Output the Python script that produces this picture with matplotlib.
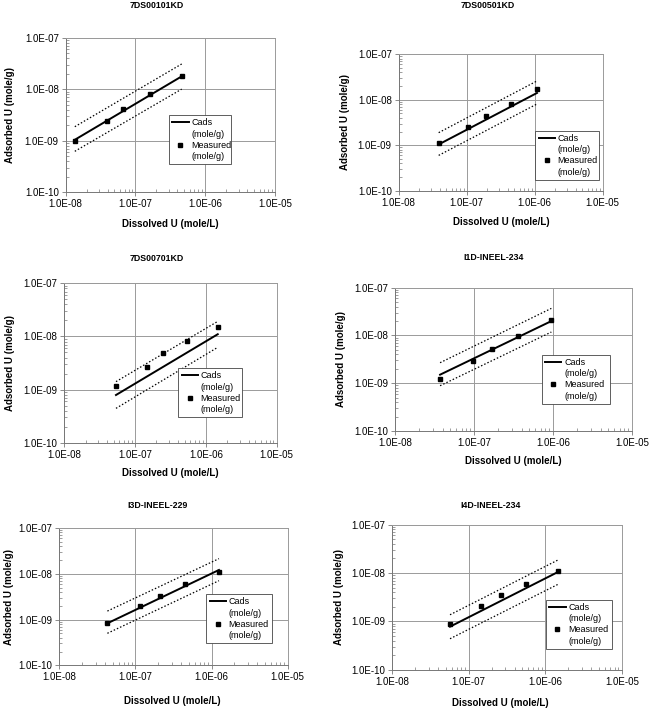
import matplotlib
matplotlib.use("Agg")
import matplotlib.pyplot as plt
from matplotlib.lines import Line2D
from matplotlib.ticker import FixedLocator, FixedFormatter, LogLocator, NullFormatter

plt.rcParams['font.family'] = ['Liberation Sans', 'DejaVu Sans']

titles = ["7DS00101KD", "7DS00501KD", "7DS00701KD",
          "I1D-INEEL-234", "I3D-INEEL-229", "I4D-INEEL-234"]

# measured points (dissolved U mole/L, adsorbed U mole/g)
meas_x = [
    [1.35e-8, 3.9e-8, 6.7e-8, 1.64e-7, 4.6e-7],
    [3.87e-8, 1.05e-7, 1.90e-7, 4.43e-7, 1.08e-6],
    [5.37e-8, 1.46e-7, 2.48e-7, 5.47e-7, 1.47e-6],
    [3.72e-8, 9.62e-8, 1.68e-7, 3.61e-7, 9.53e-7],
    [4.28e-8, 1.15e-7, 2.08e-7, 4.48e-7, 1.25e-6],
    [5.71e-8, 1.45e-7, 2.61e-7, 5.65e-7, 1.46e-6],
]
meas_y = [
    [1.0e-9, 2.45e-9, 4.2e-9, 8.1e-9, 1.79e-8],
    [1.10e-9, 2.56e-9, 4.47e-9, 7.94e-9, 1.70e-8],
    [1.18e-9, 2.70e-9, 4.88e-9, 8.32e-9, 1.53e-8],
    [1.20e-9, 2.96e-9, 5.2e-9, 9.73e-9, 2.07e-8],
    [8.4e-10, 2.01e-9, 3.27e-9, 5.97e-9, 1.11e-8],
    [8.8e-10, 2.11e-9, 3.45e-9, 5.91e-9, 1.08e-8],
]
# Cads model line and dotted bounds, at first and last measured x
cads_y = [[1.04e-9, 1.79e-8], [1.04e-9, 1.41e-8], [7.9e-10, 1.10e-8],
          [1.51e-9, 2.0e-8], [8.27e-10, 1.21e-8], [7.77e-10, 1.05e-8]]
upper_y = [[1.87e-9, 3.12e-8], [1.89e-9, 2.59e-8], [1.41e-9, 1.92e-8],
           [2.69e-9, 3.69e-8], [1.53e-9, 2.14e-8], [1.37e-9, 1.86e-8]]
lower_y = [[6.2e-10, 1.01e-8], [5.98e-10, 8.07e-9], [4.43e-10, 6.24e-9],
           [8.87e-10, 1.18e-8], [5.0e-10, 7.06e-9], [4.37e-10, 5.83e-9]]

x_ticks = [1e-8, 1e-7, 1e-6, 1e-5]
x_labels = ["1.0E-08", "1.0E-07", "1.0E-06", "1.0E-05"]
y_ticks = [1e-10, 1e-9, 1e-8, 1e-7]
y_labels = ["1.0E-10", "1.0E-09", "1.0E-08", "1.0E-07"]

W, H = 652, 713
# axes boxes in pixels: x0, x1, top, bottom
boxes = [(65.7, 275, 38, 192), (398.7, 602.7, 54.3, 190.7),
         (64.3, 276.7, 283.3, 442.7), (395, 632, 287.7, 431),
         (59.3, 287.7, 528, 665.3), (392, 622, 524.7, 669.7)]
title_pos = [(157, 6), (488, 6), (157, 258), (494, 257), (158, 505), (491, 505)]
xlab_pos = [(170, 224), (501, 222), (170, 473), (513, 461), (172, 701), (500, 703)]
ylab_x = [10, 345, 10, 341, 9, 339]
leg_box = [(0.494, 0.18, 0.296, 0.32), (0.67, 0.08, 0.31, 0.35),
           (0.537, 0.16, 0.30, 0.30), (0.62, 0.19, 0.287, 0.36),
           (0.644, 0.16, 0.286, 0.36), (0.67, 0.145, 0.287, 0.33)]

fig = plt.figure(figsize=(W / 100, H / 100), dpi=100)

for i in range(6):
    x0, x1, top, bot = boxes[i]
    ax = fig.add_axes([x0 / W, 1 - bot / H, (x1 - x0) / W, (bot - top) / H])
    ax.set_xscale('log')
    ax.set_yscale('log')
    ax.set_xlim(1e-8, 1e-5)
    ax.set_ylim(1e-10, 1e-7)

    xs = [meas_x[i][0], meas_x[i][-1]]
    h_cads, = ax.plot(xs, cads_y[i], color='black', lw=1.4, zorder=3)
    h_meas, = ax.plot(meas_x[i], meas_y[i], 's', color='black', ms=3.2, zorder=4)
    ax.plot(xs, upper_y[i], color='black', lw=0.9, ls=(0, (1.2, 1.6)), zorder=3)
    ax.plot(xs, lower_y[i], color='black', lw=0.9, ls=(0, (1.2, 1.6)), zorder=3)

    ax.xaxis.set_major_locator(FixedLocator(x_ticks))
    ax.xaxis.set_major_formatter(FixedFormatter(x_labels))
    ax.yaxis.set_major_locator(FixedLocator(y_ticks))
    ax.yaxis.set_major_formatter(FixedFormatter(y_labels))
    ax.xaxis.set_minor_locator(LogLocator(base=10, subs=range(2, 10), numticks=20))
    ax.yaxis.set_minor_locator(LogLocator(base=10, subs=range(2, 10), numticks=20))
    ax.xaxis.set_minor_formatter(NullFormatter())
    ax.yaxis.set_minor_formatter(NullFormatter())
    ax.tick_params(which='major', direction='out', length=3, width=0.6,
                   color='#777777', labelsize=7, pad=2)
    ax.tick_params(which='minor', direction='in', length=2, width=0.5, color='#777777')

    ax.grid(True, which='major', color='#9a9a9a', lw=0.7)
    ax.set_axisbelow(True)
    for s in ax.spines.values():
        s.set_color('#9a9a9a')
        s.set_linewidth(0.7)
    ax.spines['left'].set_color('#777777')
    ax.spines['bottom'].set_color('#777777')

    # two-line labels: handle sits on the first line
    blank = Line2D([], [], ls='none', marker=None)
    leg = ax.legend([h_cads, blank, h_meas, blank],
                    ["Cads", "(mole/g)", "Measured", "(mole/g)"],
                    loc='lower left', bbox_to_anchor=leg_box[i], mode='expand',
                    fontsize=6.5, frameon=True, fancybox=False, handlelength=1.8,
                    handletextpad=0.3, borderpad=0.35, labelspacing=0.25,
                    borderaxespad=0)
    leg.get_frame().set_edgecolor('#444444')
    leg.get_frame().set_linewidth(0.6)
    leg.get_frame().set_facecolor('white')
    leg.get_frame().set_alpha(1)

    tx, ty = title_pos[i]
    fig.text(tx / W, 1 - ty / H, titles[i], ha='center', va='center',
             fontsize=6.3, fontweight='bold')
    lx, ly = xlab_pos[i]
    fig.text(lx / W, 1 - ly / H, "Dissolved U (mole/L)", ha='center', va='center',
             fontsize=7, fontweight='bold')
    fig.text(ylab_x[i] / W, 1 - (top + bot) / 2 / H, "Adsorbed U (mole/g)",
             ha='center', va='center', rotation=90, fontsize=7, fontweight='bold')

fig.savefig("out.png", dpi=100)
